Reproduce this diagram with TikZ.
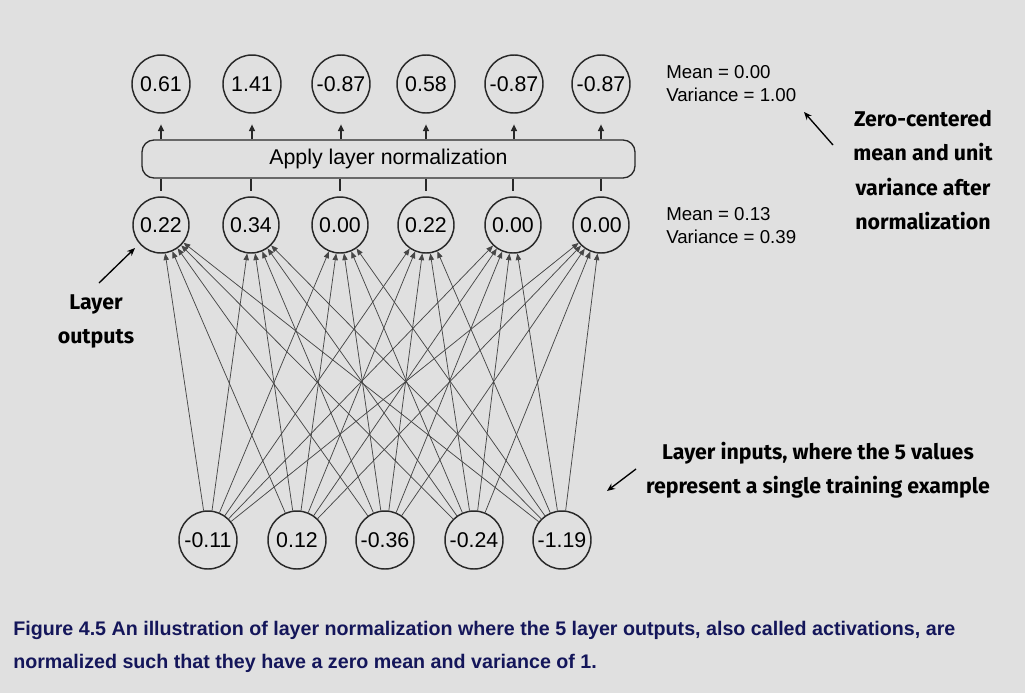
\documentclass[tikz,border=0pt]{standalone}
\usepackage{fontspec}
\setmainfont{Liberation Sans}
\newfontfamily\annotfont{Fira Sans}
\newfontfamily\capfont{Liberation Sans}
\usetikzlibrary{arrows.meta}
\definecolor{bg}{RGB}{224,224,224}
\definecolor{ink}{RGB}{40,40,40}
\definecolor{edgegray}{RGB}{70,70,70}
\definecolor{navy}{RGB}{20,22,90}
\newcommand{\zw}[1]{\makebox[0pt]{#1}}
\tikzset{
  neuron/.style={circle, draw=ink, line width=1.1pt, inner sep=0pt, minimum size=#1*0.75pt, font=\fontsize{16}{18}\selectfont},
  normbox/.style={draw=ink, line width=1pt, rounded corners=9pt, minimum width=493*0.75pt, minimum height=38*0.75pt, inner sep=0pt, font=\fontsize{16}{18}\selectfont},
  edge/.style={draw=edgegray, line width=0.55pt, -{Triangle[length=5pt,width=4pt]}},
  uparrow/.style={draw=ink, line width=0.9pt, -{Triangle[length=5pt,width=4.5pt]}, shorten >=8pt},
  stub/.style={draw=ink, line width=0.9pt, shorten >=3.75pt},
  stats/.style={anchor=north west, inner sep=0pt, align=left, font=\fontsize{14}{17.4}\selectfont, text=black},
  annot/.style={inner sep=0pt, align=center, font=\annotfont\bfseries\fontsize{16}{25.8}\selectfont, text=black},
  annarrow/.style={draw=black, line width=1pt, -{Stealth[length=6pt,width=5pt]}},
  caption/.style={anchor=north west, inner sep=0pt, align=left, text=navy, font=\capfont\bfseries\fontsize{14.75}{24.75}\selectfont}
}
\begin{document}
\begin{tikzpicture}[x=0.75pt, y=-0.75pt]
\path[fill=bg] (0,0) rectangle (1025,693);
\useasboundingbox (0,0) rectangle (1025,693);
% top nodes
\foreach \x/\v [count=\j] in {161/0.61, 252/1.41, 341/-0.87, 426/0.58, 514/-0.87, 601/-0.87}
  \node[neuron=58] (t\j) at (\x,84) {\zw{\v}};
% box
\node[normbox] (box) at (388.5,159) {Apply layer normalization};
% middle nodes
\foreach \x/\v [count=\j] in {161/0.22, 251/0.34, 340/0.00, 426/0.22, 513/0.00, 601/0.00}
  \node[neuron=56] (m\j) at (\x,225) {\zw{\v}};
% bottom nodes
\foreach \x/\v [count=\i] in {208/-0.11, 297/0.12, 385/-0.36, 474/-0.24, 562/-1.19}
  \node[neuron=58] (b\i) at (\x,540) {\zw{\v}};
% connections
\foreach \i in {1,...,5}
  \foreach \j in {1,...,6}
    \draw[edge] (b\i) -- (m\j);
\foreach \j in {1,...,6}{
  \draw[uparrow] (box.north -| t\j) -- (t\j.south);
  \draw[stub] (box.south -| m\j) -- (m\j.north);
}
% stats
\node[stats] (s1) at (666,65) {Mean = 0.00\\Variance = 1.00};
\node[stats] (s2) at (666,207) {Mean = 0.13\\Variance = 0.39};
% annotations
\node[annot, anchor=north] (zc) at (923,110) {Zero-centered\\mean and unit\\variance after\\normalization};
\node[annot, anchor=north] (lo) at (96,294) {Layer\\outputs};
\node[annot, anchor=north] (li) at (818,442) {Layer inputs, where the 5 values\\represent a single training example};
\coordinate (zcA) at (833,145);
\coordinate (zcB) at (804,112);
\coordinate (loA) at (99,283);
\coordinate (loB) at (135,248);
\coordinate (liA) at (636,469);
\coordinate (liB) at (607,491);
\draw[annarrow] (zcA) -- (zcB);
\draw[annarrow] (loA) -- (loB);
\draw[annarrow] (liA) -- (liB);
% caption
\node[caption] (cap) at (13,621) {Figure 4.5 An illustration of layer normalization where the 5 layer outputs, also called activations, are\\normalized such that they have a zero mean and variance of 1.};
\end{tikzpicture}
\end{document}
